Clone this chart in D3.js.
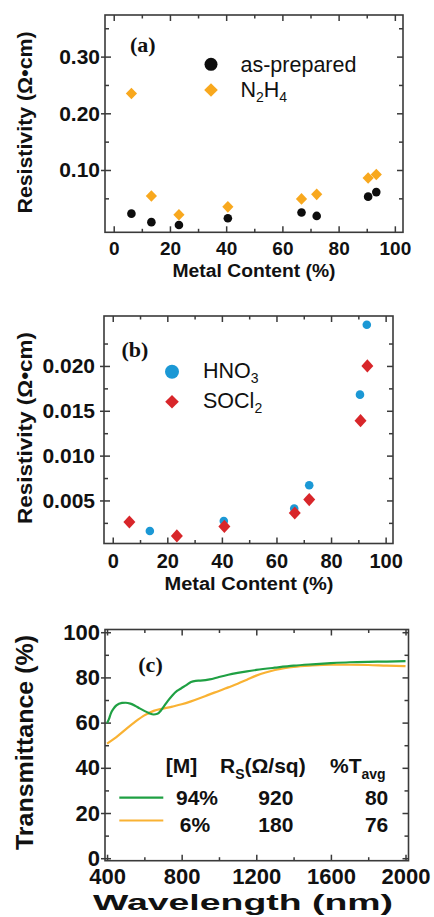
<!DOCTYPE html>
<html><head><meta charset="utf-8">
<script src="https://cdn.jsdelivr.net/npm/d3@7"></script>
<style>body{margin:0;background:#fff}svg{display:block}</style>
</head><body>
<script>
// ---------- DATA ----------
const metalA = [6.3, 13.4, 23.2, 40.6, 66.8, 72.2, 90.5, 93.4];
const asPrepared = [0.023, 0.008, 0.003, 0.015, 0.025, 0.019, 0.053, 0.061];
const n2h4 = [0.235, 0.054, 0.021, 0.035, 0.049, 0.057, 0.086, 0.092];

const metalHNO3 = [13.6, 40.7, 66.5, 72.0, 90.6, 93.1];
const hno3 = [0.0016, 0.0027, 0.0041, 0.0067, 0.0168, 0.0246];
const metalSOCl2 = [6.1, 23.5, 40.9, 66.7, 72.0, 90.8, 93.3];
const socl2 = [0.0026, 0.00105, 0.0021, 0.0036, 0.0051, 0.0139, 0.0200];

const wlGreen = [400, 410, 420, 435, 450, 480, 500, 525, 550, 575, 600, 625, 650, 670, 690, 700, 725, 750, 775, 800, 825, 850, 875, 900, 950, 1000, 1050, 1100, 1150, 1200, 1300, 1400, 1500, 1600, 1700, 1800, 1900, 2000];
const tGreen  = [59.8, 61.5, 64.0, 66.2, 67.6, 68.7, 68.8, 68.4, 67.5, 66.3, 65.2, 64.2, 63.6, 63.9, 65.5, 66.6, 69.5, 72.0, 74.0, 75.3, 76.6, 78.0, 78.5, 78.6, 79.1, 80.2, 81.2, 82.0, 82.7, 83.3, 84.3, 85.2, 85.8, 86.3, 86.7, 86.9, 87.0, 87.2];
const wlOrange = [400, 450, 500, 550, 600, 650, 700, 750, 800, 850, 900, 950, 1000, 1050, 1100, 1150, 1200, 1250, 1300, 1350, 1400, 1500, 1600, 1700, 1800, 1900, 2000];
const tOrange  = [50.7, 53.6, 57.0, 60.3, 63.2, 65.2, 66.2, 67.1, 68.1, 69.4, 70.9, 72.5, 74.0, 75.6, 77.2, 79.0, 80.8, 82.2, 83.3, 84.1, 84.7, 85.3, 85.6, 85.6, 85.5, 85.2, 85.0];

const ticksAyMajor = [0.10, 0.20, 0.30];
const ticksAyMinor = [0.05, 0.15, 0.25, 0.35];
const ticksByMajor = [0.005, 0.010, 0.015, 0.020];
const ticksByMinor = [0.0025, 0.0075, 0.0125, 0.0175, 0.0225];
const ticksMetalMajor = [0, 20, 40, 60, 80, 100];
const ticksMetalMinor = [10, 30, 50, 70, 90];
const ticksCyMajor = [0, 20, 40, 60, 80, 100];
const ticksCyMinor = [10, 30, 50, 70, 90];
const ticksCxMajor = [400, 800, 1200, 1600, 2000];
const ticksCxMinor = [600, 1000, 1400, 1800];

// ---------- DRAW ----------
const W = 434, H = 917;
const svg = d3.select('body').append('svg').attr('width', W).attr('height', H);
const SANS = 'Liberation Sans, Arial, Helvetica, sans-serif';
const SERIF = 'Liberation Serif, Times New Roman, serif';
const FRAME = '#3a3a3a';

function panel(o) {
  const x = d3.scaleLinear().domain(o.xDom).range([o.left, o.right]);
  const y = d3.scaleLinear().domain(o.yDom).range([o.bottom, o.top]);
  const g = svg.append('g');
  const fmtY = o.fmtY;

  function style(sel, labels) {
    sel.select('.domain').remove();
    sel.selectAll('.tick line').attr('stroke', FRAME).attr('stroke-width', 1.5);
    if (labels) sel.selectAll('.tick text').attr('fill', '#111').attr('font-family', SANS).attr('font-weight', 'bold');
  }
  const gb = g.append('g').attr('transform', `translate(0,${o.bottom})`)
    .call(d3.axisBottom(x).tickValues(o.xMajor).tickSize(-6).tickPadding(o.xPad).tickFormat(d3.format('d')));
  style(gb, true); gb.selectAll('.tick text').attr('font-size', o.xFs);
  const gbm = g.append('g').attr('transform', `translate(0,${o.bottom})`)
    .call(d3.axisBottom(x).tickValues(o.xMinor).tickSize(-3.5).tickFormat(''));
  style(gbm, false);
  const gt = g.append('g').attr('transform', `translate(0,${o.top})`)
    .call(d3.axisTop(x).tickValues(o.xMajor).tickSize(-6).tickFormat(''));
  style(gt, false);
  const gtm = g.append('g').attr('transform', `translate(0,${o.top})`)
    .call(d3.axisTop(x).tickValues(o.xMinor).tickSize(-3.5).tickFormat(''));
  style(gtm, false);
  const gl = g.append('g').attr('transform', `translate(${o.left},0)`)
    .call(d3.axisLeft(y).tickValues(o.yMajor).tickSize(-6).tickPadding(o.yPad).tickFormat(fmtY));
  style(gl, true); gl.selectAll('.tick text').attr('font-size', o.yFs);
  gl.selectAll('.tick line').attr('x1', -4).attr('x2', 6);
  const glm = g.append('g').attr('transform', `translate(${o.left},0)`)
    .call(d3.axisLeft(y).tickValues(o.yMinor).tickSize(-4).tickFormat(''));
  style(glm, false);
  const gr = g.append('g').attr('transform', `translate(${o.right},0)`)
    .call(d3.axisRight(y).tickValues(o.yMajor).tickSize(-6).tickFormat(''));
  style(gr, false);
  const grm = g.append('g').attr('transform', `translate(${o.right},0)`)
    .call(d3.axisRight(y).tickValues(o.yMinor).tickSize(-4).tickFormat(''));
  style(grm, false);
  g.append('rect').attr('x', o.left).attr('y', o.top)
    .attr('width', o.right - o.left).attr('height', o.bottom - o.top)
    .attr('fill', 'none').attr('stroke', FRAME).attr('stroke-width', 1.6);
  g.append('text').attr('x', o.xTitle[0]).attr('y', o.xTitle[1])
    .attr('text-anchor', 'middle').attr('font-family', SANS).attr('font-weight', 'bold')
    .attr('font-size', o.xTitle[2]).attr('textLength', o.xTitle[3]).attr('lengthAdjust', 'spacingAndGlyphs')
    .attr('fill', '#111').text(o.xLabel);
  g.append('text').attr('transform', `translate(${o.yTitle[0]},${o.yTitle[1]}) rotate(-90)`)
    .attr('text-anchor', 'middle').attr('font-family', SANS).attr('font-weight', 'bold')
    .attr('font-size', o.yTitle[2]).attr('textLength', o.yTitle[3]).attr('lengthAdjust', 'spacingAndGlyphs')
    .attr('fill', '#111').text(o.yLabel);
  g.append('text').attr('x', o.tag[0]).attr('y', o.tag[1]).attr('font-family', SERIF)
    .attr('font-weight', 'bold').attr('font-size', o.tag[2]).attr('fill', '#111').text(o.tagText);
  return {g, x, y};
}

function diamond(w, h) { return `M0,${-h}L${w},0L0,${h}L${-w},0Z`; }

// ----- Panel (a) -----
{
  const P = panel({
    left: 105, right: 403, top: 15, bottom: 232.3,
    xDom: [-3.1, 102.9], yDom: [-0.0099, 0.3734],
    xMajor: ticksMetalMajor, xMinor: ticksMetalMinor,
    yMajor: ticksAyMajor, yMinor: ticksAyMinor,
    fmtY: d3.format('.2f'), xFs: 19, yFs: 21, xPad: 9.5, yPad: 5,
    xLabel: 'Metal Content (%)', xTitle: [254, 277, 17.5, 163],
    yLabel: 'Resistivity (Ω•cm)', yTitle: [32, 122.5, 21, 182],
    tagText: '(a)', tag: [130, 51.5, 22]
  });
  P.g.selectAll('circle.ap').data(metalA).join('circle').attr('class', 'ap')
    .attr('cx', d => P.x(d)).attr('cy', (d, i) => P.y(asPrepared[i])).attr('r', 4.3).attr('fill', '#0d0d0d');
  P.g.selectAll('path.nh').data(metalA).join('path').attr('class', 'nh')
    .attr('d', diamond(5.6, 5.8)).attr('transform', (d, i) => `translate(${P.x(d)},${P.y(n2h4[i])})`).attr('fill', '#f8a81e');
  P.g.append('circle').attr('cx', 211).attr('cy', 64.3).attr('r', 6.5).attr('fill', '#0d0d0d');
  P.g.append('path').attr('d', diamond(6.8, 6.8)).attr('transform', 'translate(211,90)').attr('fill', '#f8a81e');
  P.g.append('text').attr('x', 240.5).attr('y', 71.8).attr('font-family', SANS).attr('font-size', 21.5).attr('fill', '#111').text('as-prepared');
  const t = P.g.append('text').attr('x', 240.5).attr('y', 96.8).attr('font-family', SANS).attr('font-size', 21.5).attr('fill', '#111');
  t.append('tspan').text('N');
  t.append('tspan').attr('dy', 5).attr('font-size', 14).text('2');
  t.append('tspan').attr('dy', -5).text('H');
  t.append('tspan').attr('dy', 5).attr('font-size', 14).text('4');
}

// ----- Panel (b) -----
{
  const P = panel({
    left: 104, right: 393, top: 316, bottom: 543.5,
    xDom: [-3.2, 102.7], yDom: [0.0002, 0.02557],
    xMajor: ticksMetalMajor, xMinor: ticksMetalMinor,
    yMajor: ticksByMajor, yMinor: ticksByMinor,
    fmtY: d3.format('.3f'), xFs: 20, yFs: 21, xPad: 10, yPad: 9,
    xLabel: 'Metal Content (%)', xTitle: [249, 590, 18, 169],
    yLabel: 'Resistivity (Ω•cm)', yTitle: [32, 428, 21, 192],
    tagText: '(b)', tag: [121.5, 356.5, 22]
  });
  P.g.selectAll('circle.hn').data(metalHNO3).join('circle').attr('class', 'hn')
    .attr('cx', d => P.x(d)).attr('cy', (d, i) => P.y(hno3[i])).attr('r', 4.3).attr('fill', '#1b98d5');
  P.g.selectAll('path.so').data(metalSOCl2).join('path').attr('class', 'so')
    .attr('d', diamond(6, 6.6)).attr('transform', (d, i) => `translate(${P.x(d)},${P.y(socl2[i])})`).attr('fill', '#d8262a');
  P.g.append('circle').attr('cx', 172).attr('cy', 371.7).attr('r', 7).attr('fill', '#1b98d5');
  P.g.append('path').attr('d', diamond(6.8, 6.8)).attr('transform', 'translate(172,401.7)').attr('fill', '#d8262a');
  const t1 = P.g.append('text').attr('x', 203).attr('y', 377.5).attr('font-family', SANS).attr('font-size', 21.5).attr('fill', '#111');
  t1.append('tspan').text('HNO');
  t1.append('tspan').attr('dy', 5).attr('font-size', 14).text('3');
  const t2 = P.g.append('text').attr('x', 203).attr('y', 407.5).attr('font-family', SANS).attr('font-size', 21.5).attr('fill', '#111');
  t2.append('tspan').text('SOCl');
  t2.append('tspan').attr('dy', 5).attr('font-size', 14).text('2');
}

// ----- Panel (c) -----
{
  const P = panel({
    left: 105, right: 408.5, top: 629.5, bottom: 860.7,
    xDom: [389, 2016], yDom: [-1.1, 101.2],
    xMajor: ticksCxMajor, xMinor: ticksCxMinor,
    yMajor: ticksCyMajor, yMinor: ticksCyMinor,
    fmtY: d3.format('d'), xFs: 22, yFs: 22, xPad: 8, yPad: 5,
    xLabel: 'Wavelength (nm)', xTitle: [243, 910, 21.5, 300],
    yLabel: 'Transmittance (%)', yTitle: [33, 742.5, 24, 215],
    tagText: '(c)', tag: [138.3, 671.7, 22]
  });
  const line = d3.line().x(d => P.x(d[0])).y(d => P.y(d[1])).curve(d3.curveMonotoneX);
  P.g.append('path').attr('d', line(wlOrange.map((w, i) => [w, tOrange[i]])))
    .attr('fill', 'none').attr('stroke', '#f9b233').attr('stroke-width', 2.2);
  P.g.append('path').attr('d', line(wlGreen.map((w, i) => [w, tGreen[i]])))
    .attr('fill', 'none').attr('stroke', '#1fa043').attr('stroke-width', 2.2);
  const tx = (x, y, s, anchor) => P.g.append('text').attr('x', x).attr('y', y).attr('font-family', SANS)
    .attr('font-weight', 'bold').attr('font-size', 21).attr('fill', '#111').attr('text-anchor', anchor || 'start').text(s);
  tx(165.7, 773.3, '[M]');
  const rs = tx(220, 773.3, '');
  rs.append('tspan').text('R');
  rs.append('tspan').attr('dy', 6).attr('font-size', 14).text('S');
  rs.append('tspan').attr('dy', -6).text('(Ω/sq)');
  const ta = tx(330, 773.3, '');
  ta.append('tspan').text('%T');
  ta.append('tspan').attr('dy', 6).attr('font-size', 14).text('avg');
  P.g.append('line').attr('x1', 119.3).attr('x2', 163.3).attr('y1', 797.7).attr('y2', 797.7).attr('stroke', '#1fa043').attr('stroke-width', 2.2);
  P.g.append('line').attr('x1', 119.3).attr('x2', 163.3).attr('y1', 820.5).attr('y2', 820.5).attr('stroke', '#f9b233').attr('stroke-width', 2.2);
  tx(197, 805, '94%', 'middle');
  tx(258.3, 805, '920');
  tx(388.3, 805, '80', 'end');
  tx(195, 831.7, '6%', 'middle');
  tx(258.3, 831.7, '180');
  tx(388.3, 831.7, '76', 'end');
}
</script>
</body></html>
